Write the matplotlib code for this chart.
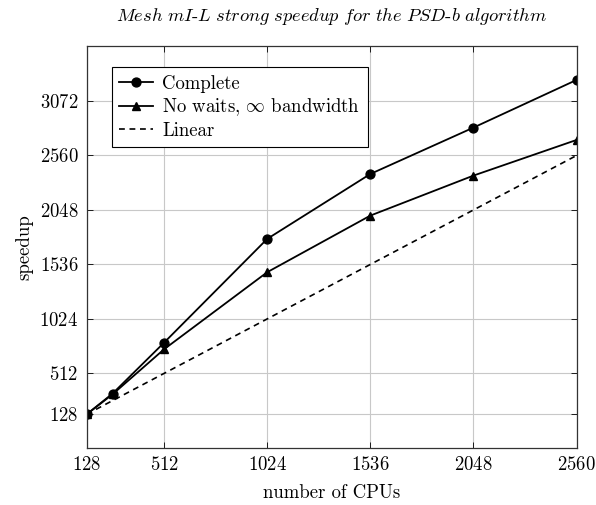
import numpy as np
import matplotlib
matplotlib.use("Agg")
import matplotlib.pyplot as plt

plt.rcParams['font.family'] = 'cmr10'
plt.rcParams['mathtext.fontset'] = 'cm'
plt.rcParams['axes.unicode_minus'] = False
plt.rcParams['axes.formatter.use_mathtext'] = True

# CPU counts and measured speedups
cpus = [128, 256, 512, 1024, 1536, 2048, 2560]
speedup_complete = [128, 322, 801, 1776, 2386, 2822, 3270]
speedup_nowait = [128, 315, 739, 1463, 1995, 2371, 2706]
speedup_linear = [128, 256, 512, 1024, 1536, 2048, 2560]

xticks = [128, 512, 1024, 1536, 2048, 2560]
yticks = [128, 512, 1024, 1536, 2048, 2560, 3072]

fig = plt.figure(figsize=(5.96, 5.05), dpi=100)
ax = fig.add_axes([0.1455, 0.1135, 0.822, 0.7955])

ax.plot(cpus, speedup_complete, color='black', lw=1.3, marker='o', ms=6.4,
        label='Complete')
ax.plot(cpus, speedup_nowait, color='black', lw=1.3, marker='^', ms=6.4,
        label=r'No waits, $\infty$ bandwidth')
ax.plot(cpus, speedup_linear, color='black', lw=1.2, ls=(0, (3.5, 2.8)),
        label='Linear')

ax.set_xlim(128, 2560)
ax.set_ylim(-186, 3589)
ax.set_xticks(xticks)
ax.set_yticks(yticks)
ax.tick_params(direction='in', top=True, right=True, length=4, width=0.6,
               labelsize=13.5, pad=6)
ax.grid(True, color='#c8c8c8', lw=0.8)
ax.set_axisbelow(True)
for s in ax.spines.values():
    s.set_linewidth(0.9)
    s.set_color('#333333')

ax.set_xlabel('number of CPUs', fontsize=13.5, labelpad=7)
ax.set_ylabel('speedup', fontsize=13.5, labelpad=4)
ax.set_title(r'$\mathit{Mesh\ mI}$-$\mathit{L\ strong\ speedup\ for\ the\ PSD}$-$\mathit{b\ algorithm}$',
             fontsize=13.3, pad=18)

leg = ax.legend(loc='upper left', bbox_to_anchor=(0.051, 0.947), borderaxespad=0,
                fontsize=13.5, fancybox=False, framealpha=1, edgecolor='black',
                handlelength=1.8, labelspacing=0.2, handletextpad=0.5,
                borderpad=0.4)
leg.get_frame().set_linewidth(0.8)

fig.savefig('out.png', dpi=100)
